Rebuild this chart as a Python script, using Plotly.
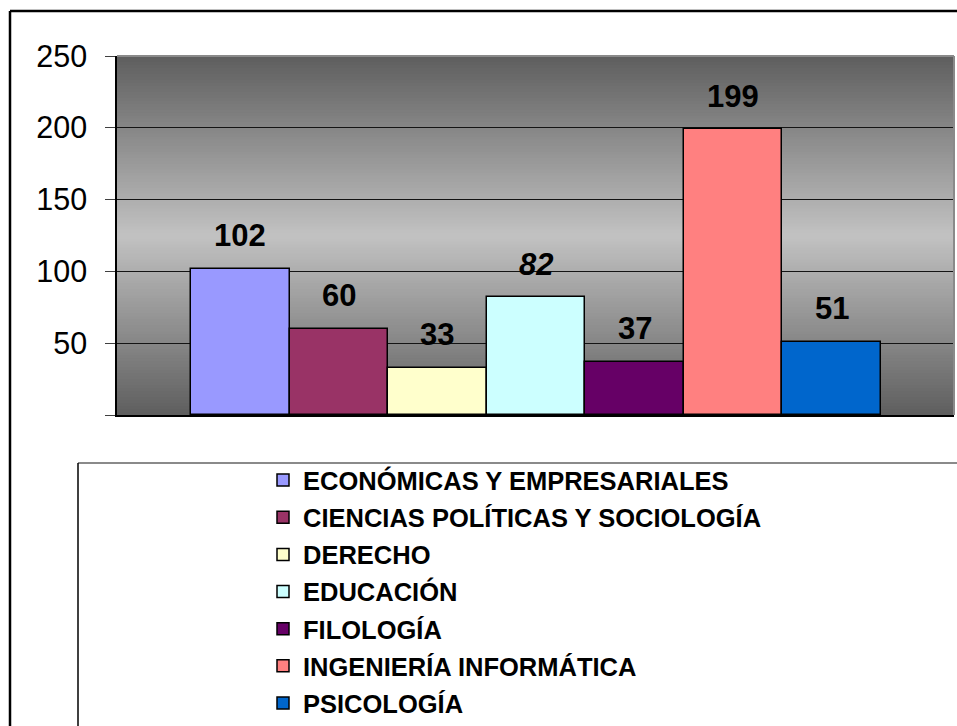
import plotly.graph_objects as go

# ---- data ----
categories = [
    "ECONÓMICAS Y EMPRESARIALES",
    "CIENCIAS POLÍTICAS Y SOCIOLOGÍA",
    "DERECHO",
    "EDUCACIÓN",
    "FILOLOGÍA",
    "INGENIERÍA INFORMÁTICA",
    "PSICOLOGÍA",
]
values = [102, 60, 33, 82, 37, 199, 51]
colors = ["#9999FF", "#993366", "#FFFFCC", "#CCFFFF", "#660066", "#FF8080", "#0066CC"]
y_tickvals = [0, 50, 100, 150, 200, 250]
y_ticktext = ["", "50", "100", "150", "200", "250"]
italic_labels = {"EDUCACIÓN"}

FONT = "Arial, 'Liberation Sans', sans-serif"
W, H = 957, 726
ML, MR, MT, MB = 117, 3, 56, 311
PW = W - ML - MR
PH = H - MT - MB


def px_x(p):
    return (p - ML) / PW


def px_y(p):
    return (H - MB - p) / PH


fig = go.Figure()
for name, v, c in zip(categories, values, colors):
    fig.add_trace(go.Bar(
        x=[name], y=[v], name=name, legendgroup=name,
        marker=dict(color=c, line=dict(color="black", width=1.5)),
        hoverinfo="x+y",
    ))

annotations = []
for name, v in zip(categories, values):
    t = f"<b>{v}</b>"
    if name in italic_labels:
        t = f"<b><i>{v}</i></b>"
    annotations.append(dict(
        x=name, y=v, xref="x", yref="y", text=t, showarrow=False,
        yanchor="middle", yshift=33,
        font=dict(family=FONT, size=31, color="black"),
    ))

shapes = []
# gradient plot background
N = 120
dark = (0x5E, 0x5E, 0x5E)
light = (0xC2, 0xC2, 0xC2)
for i in range(N):
    f = (i + 0.5) / N
    t = 1 - abs(f - 0.5) * 2  # 0 at edges, 1 at center
    col = tuple(round(d + (l - d) * t) for d, l in zip(dark, light))
    shapes.append(dict(
        type="rect", xref="x domain", yref="y domain",
        x0=0, x1=1, y0=i / N, y1=min(1, (i + 1.6) / N),
        fillcolor="rgb(%d,%d,%d)" % col, line=dict(width=0), layer="below",
    ))
# plot area top & right border (gray)
shapes.append(dict(type="line", xref="x domain", yref="y domain", x0=0, x1=1, y0=1, y1=1,
                   line=dict(color="#8a8a8a", width=2), layer="above"))
shapes.append(dict(type="line", xref="x domain", yref="y domain", x0=1, x1=1, y0=0, y1=1,
                   line=dict(color="#8a8a8a", width=2), layer="above"))
# small x-axis ticks at plot ends
for xd in (0, 1):
    shapes.append(dict(type="line", xref="x domain", yref="y", ysizemode="pixel", yanchor=0,
                       x0=xd, x1=xd, y0=0, y1=-8, line=dict(color="black", width=1.5)))
# outer chart frame (left and top edges visible)
shapes.append(dict(type="line", xref="paper", yref="paper",
                   x0=px_x(10), x1=px_x(W + 5), y0=px_y(11), y1=px_y(11),
                   line=dict(color="black", width=2.5)))
shapes.append(dict(type="line", xref="paper", yref="paper",
                   x0=px_x(10), x1=px_x(10), y0=px_y(11), y1=px_y(H + 5),
                   line=dict(color="black", width=2.5)))
# legend frame
shapes.append(dict(type="line", xref="paper", yref="paper",
                   x0=px_x(78), x1=px_x(W + 5), y0=px_y(463), y1=px_y(463),
                   line=dict(color="#8a8a8a", width=2)))
shapes.append(dict(type="line", xref="paper", yref="paper",
                   x0=px_x(78), x1=px_x(78), y0=px_y(463), y1=px_y(H + 5),
                   line=dict(color="black", width=1.5)))

fig.update_layout(
    width=W, height=H,
    margin=dict(l=ML, r=MR, t=MT, b=MB, autoexpand=False),
    paper_bgcolor="white", plot_bgcolor="#909090",
    barmode="relative", bargap=0,
    font=dict(family=FONT, color="black"),
    showlegend=True,
    legend=dict(
        x=px_x(263), y=px_y(457), xanchor="left", yanchor="top",
        bgcolor="rgba(0,0,0,0)", borderwidth=0,
        font=dict(family=FONT, size=25.5, color="black", weight="bold"),
        tracegroupgap=1, traceorder="grouped",
    ),
    xaxis=dict(
        range=[-1.251, 7.241], showticklabels=False, ticks="",
        showgrid=False, zeroline=False,
        showline=True, linecolor="black", linewidth=1.5,
    ),
    yaxis=dict(
        range=[0, 250], tickvals=y_tickvals, ticktext=y_ticktext,
        ticks="outside", ticklen=10, tickcolor="#404040", tickwidth=1,
        ticklabelstandoff=12,
        tickfont=dict(family=FONT, size=30.5, color="black"),
        showgrid=True, gridcolor="#141414", gridwidth=1,
        zeroline=False, showline=True, linecolor="black", linewidth=1.5,
    ),
    annotations=annotations,
    shapes=shapes,
)

fig.write_html(
    "out.html",
    config={"displayModeBar": False},
    post_script="document.body.style.margin='0';document.body.style.padding='0';"
                "document.body.style.overflow='hidden';",
)
